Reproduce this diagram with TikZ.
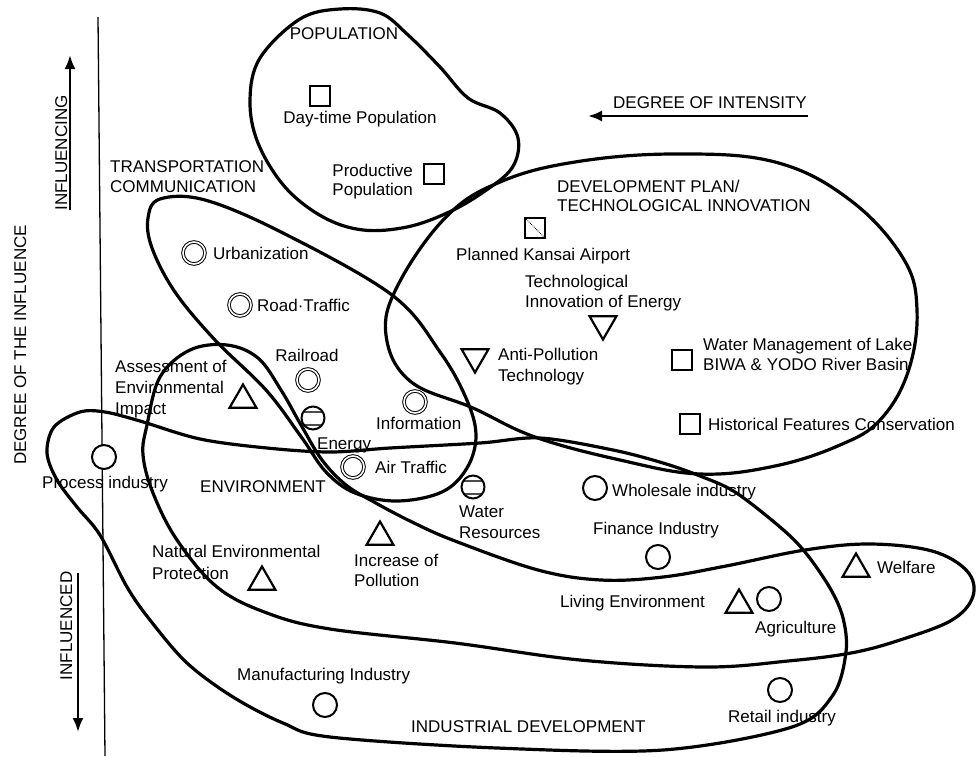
\documentclass[tikz,border=0pt]{standalone}
\usepackage{fontspec}
\setmainfont{Liberation Sans}
\usetikzlibrary{shapes.geometric,arrows.meta}
\begin{document}
\begin{tikzpicture}[x=1pt,y=-1pt,
  lbl/.style={font=\fontsize{17}{20}\selectfont, inner sep=0pt, text height=12pt, text depth=0pt, anchor=west},
  blob/.style={line width=3.2pt, line join=round},
  sq/.style={draw, rectangle, minimum size=20pt, line width=2.3pt, fill=white, inner sep=0pt},
  dcirc/.style={draw, circle, minimum size=22pt, line width=1pt, double, double distance=1.6pt, inner sep=0pt},
  ocirc/.style={draw, circle, minimum size=24pt, line width=2pt, fill=white, inner sep=0pt},
  bcirc/.style={draw, circle, minimum size=23pt, line width=2pt, fill=white, inner sep=0pt,
    path picture={\fill[black!70] ([yshift=6pt]path picture bounding box.south west) rectangle ([yshift=4pt]path picture bounding box.south east);
                  \fill[black!70] ([yshift=-4pt]path picture bounding box.north west) rectangle ([yshift=-6pt]path picture bounding box.north east);}},
  tri/.style={draw, regular polygon, regular polygon sides=3, minimum size=31pt, line width=2.2pt, inner sep=0pt},
  dtri/.style={tri, shape border rotate=180},
  axisarrow/.style={line width=2.4pt, -{Latex[length=14pt,width=11pt]}}
]
\useasboundingbox (0,0) rectangle (980,756);

% axis line
\coordinate (axtop) at (98,17);
\coordinate (axbot) at (105,756);
\draw[line width=1.3pt] (axtop) -- (axbot);

% arrows
\coordinate (a1s) at (70,210); \coordinate (a1e) at (70,55);
\draw[axisarrow] (a1s) -- (a1e);
\coordinate (a2s) at (78,573); \coordinate (a2e) at (78,732);
\draw[axisarrow] (a2s) -- (a2e);
\coordinate (a3s) at (808,116); \coordinate (a3e) at (588,116);
\draw[axisarrow] (a3s) -- (a3e);

% POPULATION blob
\draw[blob] plot[smooth cycle, tension=0.6] coordinates {
 (300,19) (340,9) (380,13) (407,34) (440,67) (468,98) (500,113) (518,138) (512,168) (482,193) (447,213) (407,227) (363,230) (323,217) (285,187) (258,143) (250,100) (260,58)};

% TRANSPORTATION blob
\draw[blob] plot[smooth cycle, tension=0.6] coordinates {
 (160,199) (205,200) (283,233) (392,295) (440,352) (466,398) (476,435) (467,468) (442,492) (397,501) (355,493) (326,472) (302,438) (266,390) (215,340) (175,292) (152,248) (148,218)};

% DEVELOPMENT ellipse
\draw[blob] plot[smooth cycle, tension=0.65] coordinates {
 (386,335) (398,285) (446,217) (500,182) (575,162) (675,154) (775,162) (850,200) (903,258) (917,310) (908,372) (880,420) (840,445) (775,466) (700,474) (620,460) (535,437) (473,408) (410,381)};

% ENVIRONMENT blob
\draw[blob] plot[smooth cycle, tension=0.6] coordinates {
 (147,425) (160,377) (190,350) (227,345) (258,358) (281,390) (301,425) (322,460) (346,485) (374,502) (412,522) (455,541) (538,570) (601,580) (663,577) (726,566) (805,550) (870,544) (932,551) (967,571) (973,596) (952,620) (900,640) (851,653) (788,661) (705,667) (580,660) (455,643) (330,629) (267,613) (217,587) (177,540) (153,493) (143,455)};

% INDUSTRIAL DEVELOPMENT blob
\draw[blob] plot[smooth cycle, tension=0.55] coordinates {
 (80,412) (105,412) (140,421) (200,439) (267,448) (330,452) (390,448) (480,443) (540,438) (613,450) (663,463) (700,476) (735,492) (780,527) (805,552) (830,588) (843,618) (846,652) (833,695) (792,727) (663,750) (497,748) (330,737) (283,723) (233,697) (187,663) (150,620) (127,587) (100,535) (77,507) (57,480) (47,453) (54,427)};

% symbols
\node[sq] (sqday) at (320,96) {};
\node[sq] (sqprod) at (434,174) {};
\node[sq, path picture={\draw[densely dotted, line width=0.8pt] (path picture bounding box.north west) -- (path picture bounding box.south east);}] (sqkansai) at (535,228) {};
\node[sq] (sqwater) at (682,360) {};
\node[sq, path picture={\fill (path picture bounding box.center) circle (0.9pt);}] (sqhist) at (690,424) {};

\node[dcirc] (cur) at (194,253) {};
\node[dcirc] (crd) at (240,305) {};
\node[dcirc] (crl) at (308,380) {};
\node[dcirc] (cinf) at (415,402) {};
\node[dcirc] (cair) at (353,467) {};

\node[bcirc] (cen) at (313,418) {};
\node[bcirc] (cwr) at (473,487) {};

\node[ocirc] (cproc) at (104,457) {};
\node[ocirc] (cwhole) at (595,488) {};
\node[ocirc] (cfin) at (658,557) {};
\node[ocirc] (cagri) at (769,599) {};
\node[ocirc] (cretail) at (780,690) {};
\node[ocirc] (cmanu) at (325,705) {};

\node[tri] (tass) at (243,400) {};
\node[tri] (tnat) at (262,582) {};
\node[tri] (tinc) at (380,537) {};
\node[tri] (tliv) at (739,605) {};
\node[tri] (twel) at (856,569) {};
\node[dtri] (ttech) at (603,324) {};
\node[dtri] (tanti) at (475,357) {};

% labels
\node[lbl, anchor=center] (tpop) at (344,33) {POPULATION};
\node[lbl, anchor=center] (tday) at (360,117) {Day-time Population};
\node[lbl, anchor=east] (tprod1) at (413,170) {Productive};
\node[lbl, anchor=east] (tprod2) at (413,189) {Population};
\node[lbl] (ttrans1) at (110,166) {TRANSPORTATION};
\node[lbl] (ttrans2) at (110,186) {COMMUNICATION};
\node[lbl] (tdev1) at (557,186) {DEVELOPMENT PLAN/};
\node[lbl] (tdev2) at (557,205) {TECHNOLOGICAL INNOVATION};
\node[lbl] (tkansai) at (456,254) {Planned Kansai Airport};
\node[lbl] (ttech1) at (525,281) {Technological};
\node[lbl] (ttech2) at (525,301) {Innovation of Energy};
\node[lbl] (tanti1) at (498,354) {Anti-Pollution};
\node[lbl] (tanti2) at (498,375) {Technology};
\node[lbl] (twater1) at (703,344) {Water Management of Lake};
\node[lbl] (twater2) at (703,364) {BIWA \& YODO River Basin};
\node[lbl] (thist) at (708,424) {Historical Features Conservation};
\node[lbl] (turb) at (213,253) {Urbanization};
\node[lbl] (troad) at (257,305) {Road·Traffic};
\node[lbl, anchor=center] (trail) at (307,355) {Railroad};
\node[lbl] (tenergy) at (317,443) {Energy};
\node[lbl] (tinfo) at (376,423) {Information};
\node[lbl] (tair) at (375,467) {Air Traffic};
\node[lbl] (tass1) at (115,366) {Assessment of};
\node[lbl] (tass2) at (115,387) {Environmental};
\node[lbl] (tass3) at (115,408) {Impact};
\node[lbl] (tproc) at (42,482) {Process industry};
\node[lbl] (tenv) at (200,486) {ENVIRONMENT};
\node[lbl] (twr1) at (459,511) {Water};
\node[lbl] (twr2) at (459,532) {Resources};
\node[lbl] (twhole) at (612,490) {Wholesale industry};
\node[lbl] (tfin) at (593,528) {Finance Industry};
\node[lbl] (tnat1) at (152,551) {Natural Environmental};
\node[lbl] (tnat2) at (152,573) {Protection};
\node[lbl] (tinc1) at (354,560) {Increase of};
\node[lbl] (tinc2) at (354,580) {Pollution};
\node[lbl] (tliving) at (560,601) {Living Environment};
\node[lbl] (tagri) at (755,627) {Agriculture};
\node[lbl] (twelfare) at (877,567) {Welfare};
\node[lbl] (tmanu) at (237,674) {Manufacturing Industry};
\node[lbl] (tretail) at (728,716) {Retail industry};
\node[lbl] (tind) at (411,726) {INDUSTRIAL DEVELOPMENT};
\node[lbl] (tint) at (613,102) {DEGREE OF INTENSITY};
\node[lbl, anchor=center, rotate=90] (tinfl) at (61,153) {INFLUENCING};
\node[lbl, anchor=center, rotate=90] (tdeg) at (20,345) {DEGREE OF THE INFLUENCE};
\node[lbl, anchor=center, rotate=90] (tinfd) at (66,626) {INFLUENCED};
\end{tikzpicture}
\end{document}
